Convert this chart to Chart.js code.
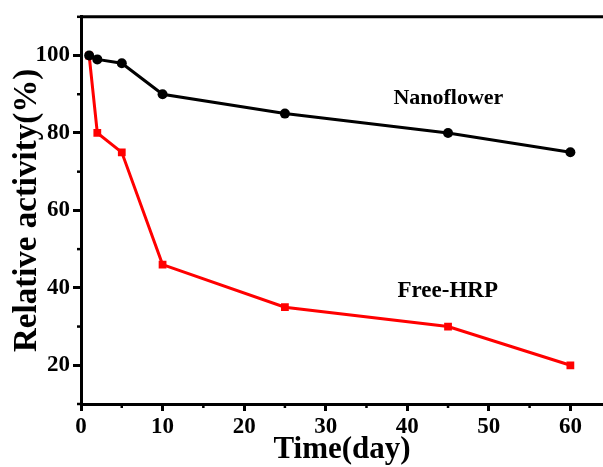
<!DOCTYPE html>
<html>
<head>
<meta charset="utf-8">
<script src="https://cdn.jsdelivr.net/npm/chart.js@4"></script>
<style>
  body { margin: 0; background: #fff; }
  #wrap { width: 603px; height: 467px; }
</style>
</head>
<body>
<div id="wrap"><canvas id="chart" width="603" height="467"></canvas></div>
<script>
// Data
const days = [1, 2, 5, 10, 25, 45, 60];
const nanoflower = [100, 99, 98, 90, 85, 80, 75];
const freeHRP = [100, 80, 75, 46, 35, 30, 20];

const xTicks = [0, 10, 20, 30, 40, 50, 60];
const yTicks = [20, 40, 60, 80, 100];
const xMinor = [5, 15, 25, 35, 45, 55];
const yMinor = [10, 30, 50, 70, 90, 110];

// in-plot labels, in data units
const seriesLabels = [
  { text: "Nanoflower", x: 38.3, y: 88.9 },
  { text: "Free-HRP", x: 38.8, y: 39.1 }
];

const FONT = "'Liberation Serif', 'Times New Roman', serif";

const toPoints = (ys) => days.map((d, i) => ({ x: d, y: ys[i] }));

// top frame line, minor ticks and the curve names
const extras = {
  id: "extras",
  afterDraw(chart) {
    const { ctx, chartArea, scales } = chart;
    const x = scales.x, y = scales.y;
    ctx.save();
    ctx.strokeStyle = "#000";
    ctx.lineWidth = 3;
    ctx.beginPath();
    ctx.moveTo(chartArea.left, chartArea.top);
    ctx.lineTo(chartArea.right, chartArea.top);
    ctx.stroke();

    ctx.lineWidth = 2.5;
    xMinor.forEach(v => {
      const px = x.getPixelForValue(v);
      ctx.beginPath();
      ctx.moveTo(px, chartArea.bottom);
      ctx.lineTo(px, chartArea.bottom + 4);
      ctx.stroke();
    });
    yMinor.forEach(v => {
      const py = y.getPixelForValue(v);
      ctx.beginPath();
      ctx.moveTo(chartArea.left, py);
      ctx.lineTo(chartArea.left - 4, py);
      ctx.stroke();
    });

    ctx.fillStyle = "#000";
    ctx.textBaseline = "middle";
    ctx.textAlign = "left";
    seriesLabels.forEach(l => {
      ctx.font = "bold " + (l.text === "Free-HRP" ? 23 : 22) + "px " + FONT;
      ctx.fillText(l.text, x.getPixelForValue(l.x), y.getPixelForValue(l.y));
    });
    ctx.restore();
  }
};

new Chart(document.getElementById("chart").getContext("2d"), {
  type: "line",
  data: {
    datasets: [
      {
        label: "Nanoflower",
        data: toPoints(nanoflower),
        borderColor: "#000",
        backgroundColor: "#000",
        borderWidth: 3,
        pointStyle: "circle",
        pointRadius: 5,
        pointBorderWidth: 0
      },
      {
        label: "Free-HRP",
        data: toPoints(freeHRP),
        borderColor: "#ff0000",
        backgroundColor: "#ff0000",
        borderWidth: 3,
        pointStyle: "rect",
        pointRadius: 5.5,
        pointBorderWidth: 0
      }
    ]
  },
  options: {
    responsive: false,
    animation: false,
    layout: { autoPadding: false, padding: { top: 16, right: 0, bottom: 0, left: 0 } },
    plugins: { legend: { display: false }, tooltip: { enabled: false } },
    scales: {
      x: {
        type: "linear",
        min: 0,
        max: 64,
        afterBuildTicks: s => { s.ticks = xTicks.map(v => ({ value: v })); },
        afterFit: s => { s.height = 63; },
        border: { color: "#000", width: 3 },
        grid: { drawOnChartArea: false, drawTicks: true, tickLength: 7, tickWidth: 3, tickColor: "#000" },
        ticks: { color: "#000", padding: 2, maxRotation: 0, font: { family: FONT, size: 23, weight: "bold" } },
        title: {
          display: true,
          text: "Time(day)",
          color: "#000",
          padding: { top: 0, bottom: 0 },
          font: { family: FONT, size: 31, weight: "bold", lineHeight: 1.1 }
        }
      },
      y: {
        min: 10,
        max: 110,
        afterBuildTicks: s => { s.ticks = yTicks.map(v => ({ value: v })); },
        afterFit: s => { s.width = 81; },
        border: { color: "#000", width: 3 },
        grid: { drawOnChartArea: false, drawTicks: true, tickLength: 8, tickWidth: 3, tickColor: "#000" },
        ticks: { color: "#000", padding: 3, font: { family: FONT, size: 23, weight: "bold" } },
        title: {
          display: true,
          text: "Relative activity(%)",
          color: "#000",
          padding: { top: 8, bottom: 0 },
          font: { family: FONT, size: 33, weight: "bold", lineHeight: 1.2 }
        }
      }
    }
  },
  plugins: [extras]
});
</script>
</body>
</html>
